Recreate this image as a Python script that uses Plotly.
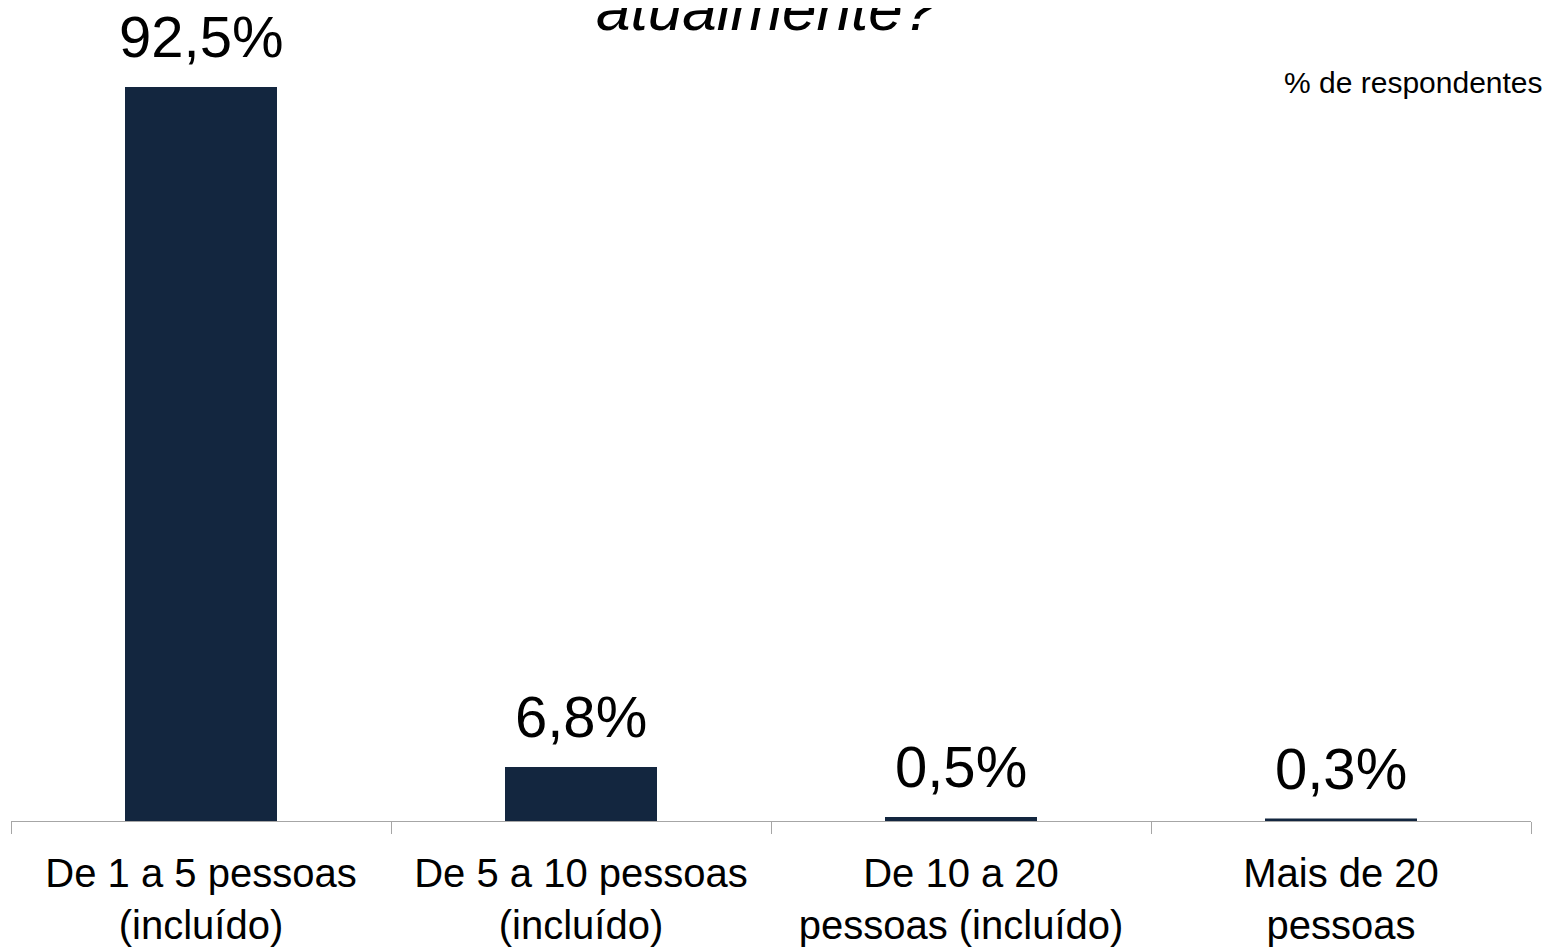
import plotly.graph_objects as go

categories = ["De 1 a 5 pessoas<br>(incluído)", "De 5 a 10 pessoas<br>(incluído)",
              "De 10 a 20<br>pessoas (incluído)", "Mais de 20<br>pessoas"]
values = [92.5, 6.8, 0.5, 0.3]
value_labels = ["92,5%", "6,8%", "0,5%", "0,3%"]
title_text = "atualmente?"
unit_text = "% de respondentes"

FONT = "Liberation Sans, Arial, sans-serif"
BAR = "#13263F"

fig = go.Figure()
fig.add_trace(go.Bar(x=categories, y=values, width=0.4, marker=dict(color=BAR, line=dict(width=0)),
                     hoverinfo="skip"))

for c, v, t in zip(categories, values, value_labels):
    fig.add_annotation(x=c, y=v, xref="x", yref="y", text=t, showarrow=False,
                       yanchor="bottom", yshift=16, font=dict(family=FONT, size=58, color="#000000"))

fig.add_annotation(xref="paper", yref="paper", x=0.5, y=1, text="<i>" + title_text + "</i>",
                   showarrow=False, yanchor="middle", yshift=0, xshift=-4,
                   font=dict(family=FONT, size=62, color="#000000"))
fig.add_annotation(xref="paper", yref="paper", x=1, y=1, text=unit_text, showarrow=False,
                   xanchor="right", yanchor="middle", yshift=-74, xshift=14,
                   font=dict(family=FONT, size=30, color="#000000"))

fig.update_layout(
    width=1553, height=948,
    margin=dict(l=3, r=30, t=0, b=135, autoexpand=False),
    paper_bgcolor="white", plot_bgcolor="white",
    showlegend=False,
    bargap=0.6,
    xaxis=dict(type="category", tickson="boundaries", ticks="outside", ticklen=12,
               tickcolor="#A6A6A6", tickwidth=1, showline=True, linecolor="#A6A6A6", linewidth=1,
               showgrid=False, tickfont=dict(family=FONT, size=40, color="#000000"),
               ticklabelstandoff=17, range=[-0.5, 3.5], fixedrange=True),
    yaxis=dict(range=[0, 102.46], visible=False, showgrid=False, zeroline=False, fixedrange=True),
)

fig.write_html("out.html")
